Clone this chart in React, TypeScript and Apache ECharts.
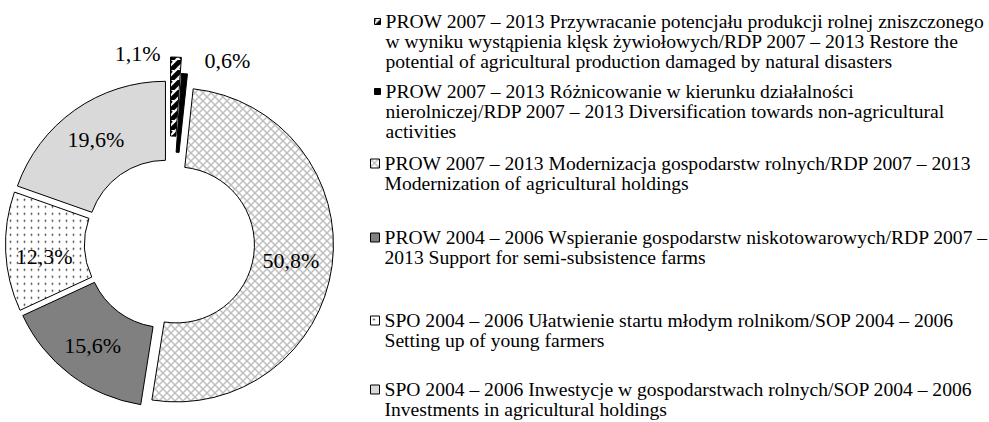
import React, { useEffect, useRef } from 'react';
import * as echarts from 'echarts';

// ---- data ----
const categories: string[] = [
  'PROW 2007 – 2013 Przywracanie potencjału produkcji rolnej zniszczonego\nw wyniku wystąpienia klęsk żywiołowych/RDP 2007 – 2013 Restore the\npotential of agricultural production damaged by natural disasters',
  'PROW 2007 – 2013 Różnicowanie w kierunku działalności\nnierolniczej/RDP 2007 – 2013 Diversification towards non-agricultural\nactivities',
  'PROW 2007 – 2013 Modernizacja gospodarstw rolnych/RDP 2007 – 2013\nModernization of agricultural holdings',
  'PROW 2004 – 2006 Wspieranie gospodarstw niskotowarowych/RDP 2007 –\n2013 Support for semi-subsistence farms',
  'SPO 2004 – 2006 Ułatwienie startu młodym rolnikom/SOP 2004 – 2006\nSetting up of young farmers',
  'SPO 2004 – 2006 Inwestycje w gospodarstwach rolnych/SOP 2004 – 2006\nInvestments in agricultural holdings',
];
const shares: number[] = [1.1, 0.6, 50.8, 15.6, 12.3, 19.6];

// ---- styling ----
const FONT = '"Liberation Serif", "Times New Roman", serif';
const groups: number[][] = [[2, 3, 4, 5], [0], [1]];
const groupOffsets = [7, 30, 14];
const labelShift: Record<number, [number, number]> = {
  0: [-37, -40],
  1: [46, -50],
  2: [-5, 0],
  4: [2, 6],
};
const legendIconLeft = [374, 374, 370, 370, 370, 370];
const legendIconSize = [6, 6, 9, 9, 9, 9];
const legendFirstLineY = [21.5, 91.5, 163.5, 237.5, 320.5, 389.5];
const LINE_H = 20;

function makeCanvas(w: number, h: number, draw: (c: CanvasRenderingContext2D) => void) {
  const cv = document.createElement('canvas');
  cv.width = w;
  cv.height = h;
  const ctx = cv.getContext('2d')!;
  draw(ctx);
  return cv;
}

function buildFills(): any[] {
  const hatch = makeCanvas(10, 10, (c) => {
    c.fillStyle = '#fff';
    c.fillRect(0, 0, 10, 10);
    c.strokeStyle = '#000';
    c.lineWidth = 4.8;
    for (const k of [-1, 0, 1]) {
      c.beginPath();
      c.moveTo(k * 10, 10);
      c.lineTo(k * 10 + 10, 0);
      c.stroke();
    }
  });
  const cross = makeCanvas(8, 8, (c) => {
    c.fillStyle = '#fff';
    c.fillRect(0, 0, 8, 8);
    c.strokeStyle = '#bcbcbc';
    c.lineWidth = 1.4;
    c.beginPath();
    c.moveTo(0, 0);
    c.lineTo(8, 8);
    c.moveTo(8, 0);
    c.lineTo(0, 8);
    c.stroke();
  });
  const dots = makeCanvas(7, 7, (c) => {
    c.fillStyle = '#fff';
    c.fillRect(0, 0, 7, 7);
    c.fillStyle = '#333';
    c.beginPath();
    c.arc(3.5, 3.5, 0.9, 0, Math.PI * 2);
    c.fill();
  });
  return [
    { image: hatch, repeat: 'repeat' },
    '#000000',
    { image: cross, repeat: 'repeat' },
    '#808080',
    { image: dots, repeat: 'repeat' },
    '#d9d9d9',
  ];
}

const fmt = (v: number) => v.toFixed(1).replace('.', ',') + '%';

export default function App() {
  const ref = useRef<HTMLDivElement>(null);
  useEffect(() => {
    if (!ref.current) return;
    const chart = echarts.init(ref.current, null, { renderer: 'svg' });
    const fills = buildFills();

    const series = groups.map((grp, g) => ({
      type: 'pie',
      center: [169.5, 244],
      radius: [78, 157],
      startAngle: 90,
      clockwise: true,
      selectedMode: 'multiple',
      selectedOffset: groupOffsets[g],
      avoidLabelOverlap: false,
      silent: true,
      emphasis: { disabled: true },
      label: {
        show: true,
        position: 'inside',
        color: '#000',
        fontFamily: FONT,
        fontSize: 22,
        formatter: (p: any) => fmt(p.value),
      },
      labelLine: { show: false },
      labelLayout: (p: any) => {
        const s = labelShift[p.dataIndex];
        return s ? { dx: s[0], dy: s[1] } : {};
      },
      data: shares.map((v, i) =>
        grp.includes(i)
          ? {
              name: categories[i],
              value: v,
              selected: true,
              itemStyle: { color: fills[i], borderColor: '#000', borderWidth: 1 },
            }
          : {
              name: `gap-${g}-${i}`,
              value: v,
              itemStyle: { color: 'rgba(0,0,0,0)', borderWidth: 0 },
              label: { show: false },
            }
      ),
    }));

    const legends = categories.map((name, i) => {
      const n = name.split('\n').length;
      return {
        data: [{ name, icon: 'rect', itemStyle: { borderColor: '#000', borderWidth: 1 } }],
        orient: 'vertical',
        left: legendIconLeft[i],
        top: legendFirstLineY[i] - ((2 * n - 1) * LINE_H) / 2,
        padding: 0,
        itemWidth: legendIconSize[i],
        itemHeight: legendIconSize[i],
        selectedMode: false,
        formatter: (nm: string) => '\n'.repeat(n - 1) + nm,
        textStyle: {
          fontFamily: FONT,
          fontSize: 19.6,
          lineHeight: LINE_H,
          color: '#000',
        },
      };
    });

    chart.setOption({
      animation: false,
      backgroundColor: '#fff',
      legend: legends,
      series,
    });
    return () => chart.dispose();
  }, []);
  return (
    <div
      ref={ref}
      style={{ position: 'fixed', left: 0, top: 0, width: 989, height: 422, background: '#fff' }}
    />
  );
}
